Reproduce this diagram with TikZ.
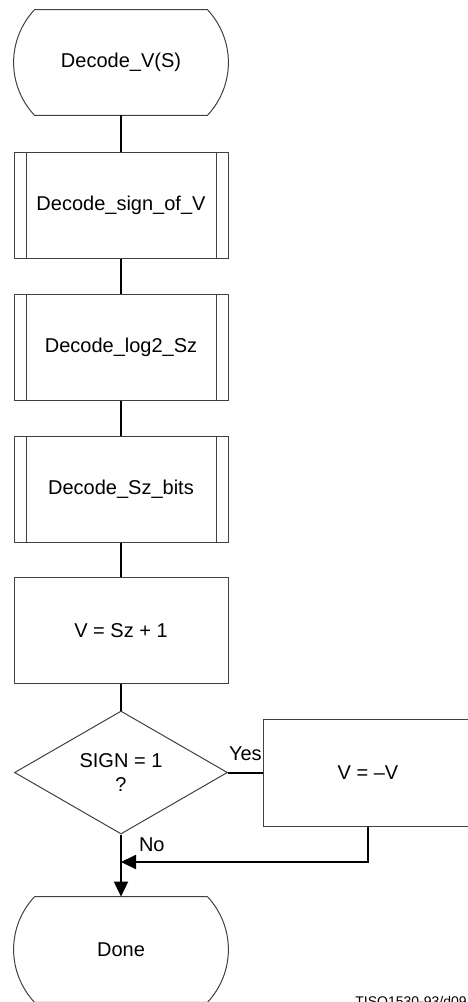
\documentclass[tikz,border=0pt]{standalone}
\usepackage{fontspec}
\setmainfont{Liberation Sans}
\usetikzlibrary{shapes.geometric,arrows.meta,positioning,calc}
\tikzset{
    terminal/.style={rectangle, minimum width=107pt, minimum height=52.5pt, inner sep=0pt},
    process/.style={rectangle, draw=black!75, line width=0.5pt, minimum width=107pt, minimum height=53pt, inner sep=0pt},
    predef/.style={process, path picture={
        \draw[black!75, line width=0.5pt] ([xshift=6pt]path picture bounding box.north west) -- ([xshift=6pt]path picture bounding box.south west);
        \draw[black!75, line width=0.5pt] ([xshift=-6pt]path picture bounding box.north east) -- ([xshift=-6pt]path picture bounding box.south east);}},
    decision/.style={diamond, draw=black!75, line width=0.5pt, minimum width=106.5pt, minimum height=61.5pt, inner sep=0pt, align=center},
    outline/.style={draw=black!75, line width=0.5pt},
    flow/.style={line width=1pt, black},
    flowarrow/.style={flow, -{Triangle[length=7.5pt, width=7pt]}},
}
\begin{document}
\begin{tikzpicture}[x=0.5pt, y=-0.5pt]
    \useasboundingbox (0,0) rectangle (467,1002);

    % Main column
    \node[terminal] (S) at (121,62.5) {Decode\_V(S)};
    \node[predef] (P1) at (121,205) {Decode\_sign\_of\_V};
    \node[predef] (P2) at (121,347.5) {Decode\_log2\_Sz};
    \node[predef] (P3) at (121,489) {Decode\_Sz\_bits};
    \node[process] (A) at (121,630.5) {V = Sz + 1};
    \node[decision] (D) at (121,772.5) {SIGN = 1\\?};
    \node[process, minimum width=105pt, minimum height=53.5pt] (N) at (368,772.5) {V = \textendash V};
    \node[terminal] (T) at (121,949.5) {Done};
    \coordinate (J) at (121,862);

    % Terminal outlines
    \foreach \t in {S,T} {
        \draw[outline] ($(\t.north west)+(21,0)$) -- ($(\t.north east)+(-21,0)$)
            .. controls ($(\t.north east)+(7,30)$) and ($(\t.south east)+(7,-30)$) .. ($(\t.south east)+(-21,0)$)
            -- ($(\t.south west)+(21,0)$)
            .. controls ($(\t.south west)+(-7,-30)$) and ($(\t.north west)+(-7,30)$) .. cycle;
    }

    % Connectors
    \draw[flow] (S) -- (P1);
    \draw[flow] (P1) -- (P2);
    \draw[flow] (P2) -- (P3);
    \draw[flow] (P3) -- (A);
    \draw[flow] (A) -- (D);
    \draw[flow] (D) -- (N) node[pos=0, above right, inner sep=0pt, yshift=5.5pt] {Yes};
    \draw[flowarrow] (N.south) |- (J);
    \draw[flowarrow] (D.south) -- (T.north) node[pos=0, below right, inner sep=0pt, xshift=8.5pt, yshift=-1pt] {No};

    \node[anchor=base west, inner sep=0pt, font=\fontsize{7pt}{8pt}\selectfont] (ref) at (355,1006) {TISO1530-93/d09};
\end{tikzpicture}
\end{document}
